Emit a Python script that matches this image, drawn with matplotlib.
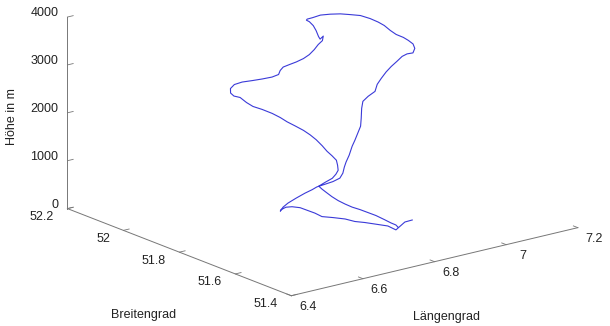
import matplotlib
matplotlib.use("Agg")
import matplotlib.pyplot as plt
import numpy as np
from matplotlib.ticker import NullFormatter
from mpl_toolkits.mplot3d import proj3d

plt.rcParams['font.family'] = ['Liberation Sans', 'DejaVu Sans']
plt.rcParams['font.size'] = 9

# Flight track: longitude (deg), latitude (deg), altitude (m)
lon = [6.947, 6.921, 6.864, 6.861, 6.846, 6.828, 6.811, 6.801, 6.782, 6.763,
       6.762, 6.757, 6.752, 6.738, 6.721, 6.697, 6.685, 6.695, 6.700, 6.715,
       6.731, 6.738, 6.737, 6.742, 6.746, 6.752, 6.758, 6.766, 6.770, 6.785,
       6.798, 6.808, 6.828, 6.838, 6.853, 6.866, 6.878, 6.899, 6.922, 6.936,
       6.948, 6.964, 6.976, 6.987, 6.997, 7.006, 7.010, 7.012, 7.018, 7.015,
       7.009, 6.999, 6.996, 6.997, 6.991, 6.982, 6.968, 6.948, 6.930, 6.911,
       6.890, 6.865, 6.849, 6.843, 6.852, 6.852, 6.856, 6.855, 6.857, 6.876,
       6.865, 6.851, 6.832, 6.812, 6.795, 6.778, 6.765, 6.754, 6.744, 6.734,
       6.722, 6.707, 6.693, 6.680, 6.666, 6.652, 6.643, 6.646, 6.661, 6.671,
       6.686, 6.710, 6.731, 6.748, 6.762, 6.779, 6.795, 6.808, 6.818, 6.823,
       6.828, 6.838, 6.847, 6.848, 6.848, 6.848, 6.845, 6.836, 6.829, 6.832,
       6.836, 6.837, 6.841, 6.844, 6.849, 6.858, 6.865, 6.872, 6.875, 6.880,
       6.888, 6.891]
lat = [51.668, 51.661, 51.620, 51.645, 51.662, 51.685, 51.699, 51.721, 51.740, 51.755,
       51.779, 51.797, 51.819, 51.830, 51.830, 51.817, 51.804, 51.807, 51.796, 51.786,
       51.775, 51.758, 51.740, 51.717, 51.694, 51.677, 51.674, 51.679, 51.678, 51.686,
       51.692, 51.695, 51.709, 51.713, 51.730, 51.745, 51.756, 51.764, 51.769, 51.779,
       51.780, 51.783, 51.780, 51.774, 51.768, 51.762, 51.746, 51.742, 51.756, 51.769,
       51.779, 51.792, 51.809, 51.832, 51.846, 51.863, 51.880, 51.891, 51.903, 51.915,
       51.923, 51.919, 51.918, 51.913, 51.914, 51.900, 51.895, 51.885, 51.882, 51.895,
       51.884, 51.881, 51.871, 51.863, 51.862, 51.866, 51.874, 51.882, 51.880, 51.873,
       51.881, 51.897, 51.915, 51.934, 51.944, 51.940, 51.928, 51.920, 51.917, 51.907,
       51.903, 51.901, 51.892, 51.885, 51.878, 51.871, 51.862, 51.855, 51.846, 51.831,
       51.820, 51.815, 51.811, 51.808, 51.806, 51.814, 51.823, 51.837, 51.851, 51.843,
       51.834, 51.814, 51.797, 51.776, 51.757, 51.741, 51.721, 51.702, 51.676, 51.658,
       51.651, 51.648]
alt = [0, 20, 50, 80, 100, 120, 140, 160, 180, 200,
       220, 240, 260, 280, 300, 320, 340, 400, 500, 600,
       700, 800, 900, 1000, 1100, 1200, 1300, 1400, 1500, 1600,
       1750, 1850, 1950, 2050, 2150, 2300, 2400, 2450, 2500, 2600,
       2700, 2800, 2900, 3000, 3100, 3150, 3200, 3300, 3350, 3400,
       3450, 3500, 3550, 3600, 3650, 3700, 3750, 3780, 3800, 3800,
       3800, 3800, 3800, 3800, 3750, 3700, 3600, 3500, 3450, 3450,
       3400, 3350, 3300, 3250, 3200, 3150, 3100, 3050, 3000, 2950,
       2900, 2850, 2800, 2750, 2700, 2650, 2600, 2550, 2500, 2400,
       2300, 2200, 2100, 2000, 1900, 1800, 1700, 1600, 1500, 1400,
       1300, 1200, 1100, 1000, 900, 800, 700, 600, 500, 450,
       400, 350, 300, 270, 240, 210, 180, 150, 120, 80,
       40, 0]

lon_ticks = [6.4, 6.6, 6.8, 7.0, 7.2]
lon_labels = ['6.4', '6.6', '6.8', '7', '7.2']
lat_ticks = [51.4, 51.6, 51.8, 52.0, 52.2]
lat_labels = ['51.4', '51.6', '51.8', '52', '52.2']
alt_ticks = [0, 1000, 2000, 3000, 4000]
alt_labels = ['0', '1000', '2000', '3000', '4000']

W, H = 610, 326
text_col = '#222222'
axis_col = '#777777'

fig = plt.figure(figsize=(W / 100, H / 100), dpi=100)
ax = fig.add_axes([0, 0, 1, 1], projection='3d', proj_type='ortho')
ax.view_init(elev=17.7, azim=-128)
ax.set_box_aspect((1, 1, 0.553))

ax.plot(lon, lat, alt, color='#3a3ad8', lw=0.8)

ax.set_xlim(lon_ticks[0], lon_ticks[-1])
ax.set_ylim(lat_ticks[0], lat_ticks[-1])
ax.set_zlim(alt_ticks[0], alt_ticks[-1])
ax.set_xticks(lon_ticks)
ax.set_yticks(lat_ticks)
ax.set_zticks(alt_ticks)

ax.grid(False)
for axis in (ax.xaxis, ax.yaxis, ax.zaxis):
    axis.set_major_formatter(NullFormatter())
    axis.set_pane_color((1, 1, 1, 0))
    axis.pane.set_edgecolor((1, 1, 1, 0))
    axis.line.set_color(axis_col)
    axis.line.set_linewidth(0.7)
    axis._axinfo['tick']['inward_factor'] = 0.0
    axis._axinfo['tick']['outward_factor'] = 0.25
    axis._axinfo['tick']['linewidth'] = {True: 0.6, False: 0.4}
ax.tick_params(axis='both', colors=axis_col)
ax.tick_params(axis='z', colors=axis_col)


def to_pixels(x, y, z):
    """Display position (pixels, origin bottom-left) of a 3D data point."""
    xs, ys, _ = proj3d.proj_transform(x, y, z, ax.get_proj())
    return ax.transData.transform((xs, ys))


# Place the square 3D panel so the box corners land at chosen pixel spots
fig.canvas.draw()
corners = [(6.4, 51.4, 0), (7.2, 51.4, 0), (6.4, 52.2, 0), (6.4, 52.2, 4000)]
spots = [(292, 295), (578, 228), (67, 208), (67, 18)]
rows, rhs = [], []
for (cx, cy, cz), (px, py) in zip(corners, spots):
    qx, qy = ax.transAxes.inverted().transform(to_pixels(cx, cy, cz))
    rows.append([1, 0, qx]); rhs.append(px)
    rows.append([0, 1, qy]); rhs.append(H - py)
L, B, S = np.linalg.lstsq(np.array(rows, float), np.array(rhs, float), rcond=None)[0]
ax.set_position([L / W, B / H, S / W, S / H])
fig.canvas.draw()


def tick_text(x, y, z, s, dx, dy, ha):
    # label beside a tick, offset in pixels (dy positive = downwards)
    px, py = to_pixels(x, y, z)
    fig.text((px + dx) / W, (py - dy) / H, s, ha=ha, va='center', color=text_col)


for t, s in zip(lat_ticks, lat_labels):
    tick_text(lon_ticks[0], t, alt_ticks[0], s, -13.5, 8.5, 'right')
for t, s in zip(lon_ticks, lon_labels):
    tick_text(t, lat_ticks[0], alt_ticks[0], s, 16.5, 11.5, 'center')
for t, s in zip(alt_ticks, alt_labels):
    tick_text(lon_ticks[0], lat_ticks[-1], t, s, -9, -4, 'right')

fig.text(12 / W, 1 - 117 / H, 'Höhe in m', rotation=90, ha='center', va='center', color=text_col)
fig.text(144 / W, 1 - 315 / H, 'Breitengrad', ha='center', va='center', color=text_col)
fig.text(447 / W, 1 - 317 / H, 'Längengrad', ha='center', va='center', color=text_col)

fig.savefig('out.png', dpi=100, facecolor='white')
